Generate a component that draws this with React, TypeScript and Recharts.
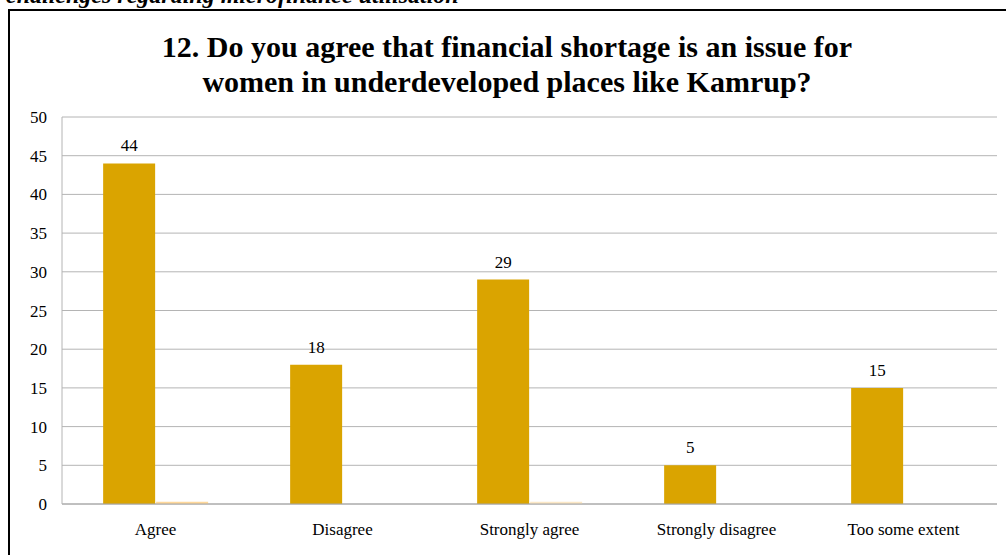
import { Bar, BarChart, CartesianGrid, Cell, LabelList, XAxis, YAxis } from "recharts";

const categories = ["Agree", "Disagree", "Strongly agree", "Strongly disagree", "Too some extent"];
const responses = [44, 18, 29, 5, 15];
const secondary = [0.3, 0, 0.3, 0, 0];
const secondaryColors = ["#FFD89A", "#FFD89A", "#FCE8C6", "#FFD89A", "#FFD89A"];
const yTicks = [0, 5, 10, 15, 20, 25, 30, 35, 40, 45, 50];

const data = categories.map((name, i) => ({
  name,
  responses: responses[i],
  secondary: secondary[i],
}));

const serif = '"Liberation Serif", "Times New Roman", serif';

export default function App() {
  return (
    <div
      style={{
        position: "fixed",
        left: 0,
        top: 0,
        width: 1006,
        height: 555,
        background: "#fff",
        overflow: "hidden",
        fontFamily: serif,
      }}
    >
      <div
        style={{
          position: "absolute",
          left: 6,
          top: -17,
          fontSize: 24,
          lineHeight: "24px",
          fontWeight: "bold",
          fontStyle: "italic",
          whiteSpace: "nowrap",
        }}
      >
        challenges regarding microfinance utilisation
      </div>
      <div
        style={{
          position: "absolute",
          left: 8,
          top: 9,
          width: 1010,
          height: 560,
          border: "2px solid #000",
          boxShadow: "1px 1px 0 #999",
        }}
      />
      <div
        style={{
          position: "absolute",
          left: 0,
          top: 29,
          width: 1014,
          textAlign: "center",
          fontSize: 30,
          fontWeight: "bold",
          lineHeight: "35px",
        }}
      >
        12. Do you agree that financial shortage is an issue for
        <br />
        women in underdeveloped places like Kamrup?
      </div>
      <div style={{ position: "absolute", left: 0, top: 0 }}>
        <BarChart
          width={1006}
          height={555}
          data={data}
          margin={{ top: 117, right: 9, bottom: 21, left: 22 }}
          barCategoryGap="22%"
          barGap={1}
        >
          <CartesianGrid vertical={false} stroke="#B4B4B4" />
          <XAxis
            dataKey="name"
            tickLine={false}
            axisLine={{ stroke: "#A6A6A6" }}
            tickMargin={13}
            tick={{ fill: "#000", fontSize: 17, fontFamily: serif }}
          />
          <YAxis
            width={40}
            domain={[0, 50]}
            ticks={yTicks}
            interval={0}
            tickLine={false}
            axisLine={{ stroke: "#B4B4B4" }}
            tickMargin={9}
            tick={{ fill: "#000", fontSize: 17, fontFamily: serif }}
          />
          <Bar dataKey="responses" fill="#DAA400" isAnimationActive={false}>
            <LabelList
              dataKey="responses"
              position="top"
              offset={12}
              style={{ fill: "#000", fontSize: 17, fontFamily: serif }}
            />
          </Bar>
          <Bar dataKey="secondary" isAnimationActive={false}>
            {secondaryColors.map((c, i) => (
              <Cell key={i} fill={c} />
            ))}
          </Bar>
        </BarChart>
      </div>
    </div>
  );
}
